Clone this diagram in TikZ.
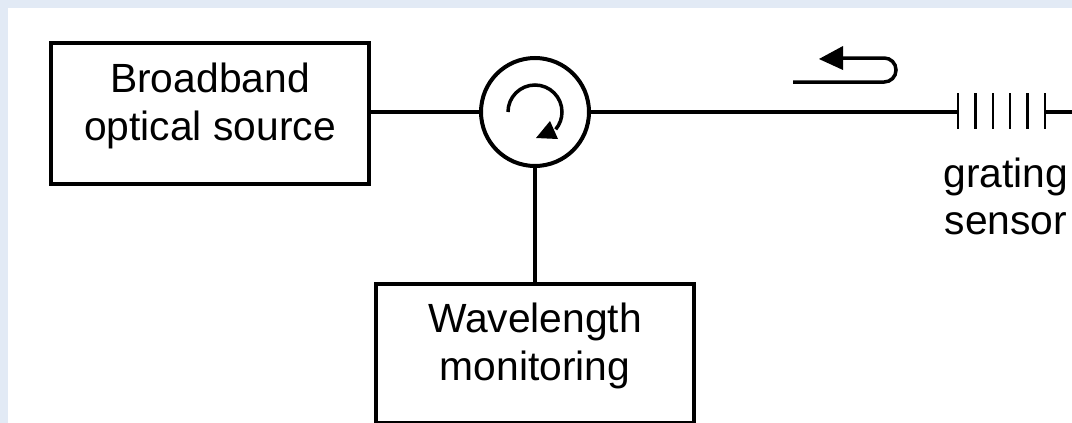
\documentclass[tikz,border=0pt]{standalone}
\usepackage{fontspec}
\setmainfont{Liberation Sans}
\usetikzlibrary{arrows.meta,positioning}

\definecolor{framecol}{HTML}{E2EAF5}

\begin{document}
\begin{tikzpicture}[
  x=0.5pt, y=-0.5pt,
  node distance=28pt and 28pt,
  box/.style={draw, line width=2pt, align=center, minimum width=159pt, minimum height=70.5pt, inner sep=0pt,
    text depth=12pt, font=\fontsize{20.4}{24}\selectfont},
  circ/.style={draw, circle, line width=2pt, minimum size=54pt, inner sep=0pt},
  lbl/.style={align=center, inner sep=0pt, font=\fontsize{20.4}{23.5}\selectfont},
  wire/.style={line width=1.75pt},
  bar/.style={line width=1.25pt}
]
  \useasboundingbox (0,0) rectangle (1072,423);
  \clip (0,0) rectangle (1072,423);
  \fill[framecol] (0,0) rectangle (1072,423);
  \fill[white] (8,8) rectangle (1072,423);

  \node[box] (source) at (210,113.5) {Broadband\\optical source};
  \node[circ] (circulator) at (535,112) {};
  \node[box, minimum height=69.5pt, below=57pt of circulator] (monitor) {Wavelength\\monitoring};

  \coordinate (gratingin) at (958,112);
  \coordinate (gratingout) at (1045,112);
  \coordinate (fiberend) at (1072,112);
  \node[lbl, below=23pt of gratingin, xshift=24pt] (sensor) {grating\\sensor};

  \draw[wire] (source.east |- circulator.west) -- (circulator.west);
  \draw[wire] (circulator.east) -- (gratingin);
  \draw[wire] (circulator.south) -- (monitor.north -| circulator.south);
  \draw[wire] (gratingout) -- (fiberend);

  % grating lines
  \foreach \i in {0,...,5}
    \draw[bar] (958+17.4*\i,93) -- (958+17.4*\i,129);

  % reflected light
  \coordinate (reflstart) at (793,82);
  \coordinate (refltip) at (843,58);
  \draw[wire, rounded corners=5.9pt] (reflstart) -- (896,82) -- (896,58) -- (refltip);
  \fill (819,59) -- (843,46) -- (843,70) -- cycle;

  % direction inside circulator
  \draw[wire] (508,112) arc[start angle=180, end angle=400, radius=27];
  \fill (536,138) -- (558,139) -- (550,121) -- cycle;
\end{tikzpicture}
\end{document}
